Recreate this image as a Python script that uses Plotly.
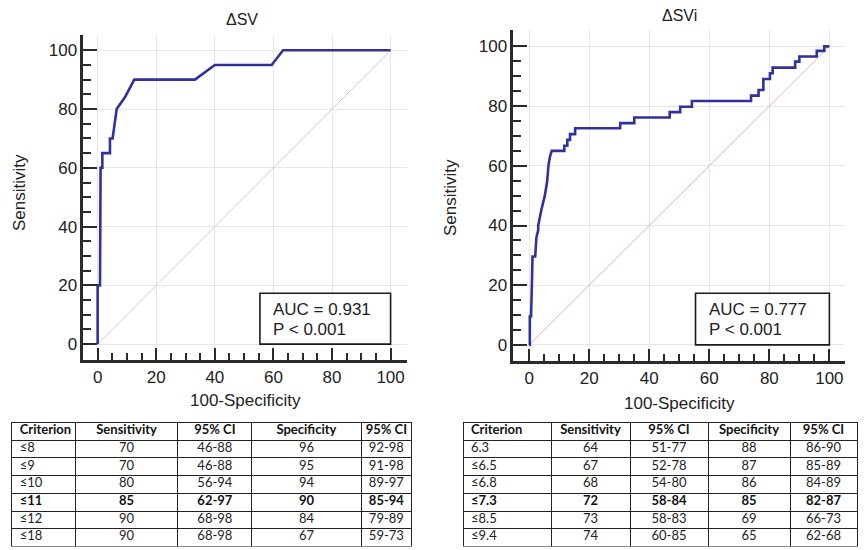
import plotly.graph_objects as go

W, H = 865, 550

# ---------------- data ----------------
sv_title = "ΔSV"
sv_fpr = [0, 0, 0.8, 0.8, 1.0, 1.6, 1.6, 4.2, 4.2, 5.1, 6.5, 9.3, 12.5, 33.2, 40.0, 59.4, 63.3, 100]
sv_sens = [0, 20, 20, 55, 60, 60, 65, 65, 70, 70, 80, 84, 90, 90, 95, 95, 100, 100]
sv_auc = "AUC = 0.931"
sv_p = "P < 0.001"

svi_title = "ΔSVi"
svi_fpr = [0, 0.2, 0.2, 0.6, 0.9, 1.1, 2.0, 2.4, 3.0, 3.0, 4.0, 5.2, 6.0, 6.4, 6.9, 7.5,
           11.7, 11.7, 12.7, 12.7, 13.6, 13.6, 15.3, 15.3, 30.3, 30.3, 35.0, 35.0,
           46.8, 46.8, 50.3, 50.3, 54.2, 54.2, 73.9, 73.9, 76.4, 76.4, 78.0, 78.0,
           80.2, 80.2, 81.1, 81.1, 88.6, 88.6, 90.0, 90.0, 95.8, 95.8, 98.3, 98.3, 100]
svi_sens = [0, 0, 9.5, 9.5, 20, 29.6, 29.6, 36, 38.5, 40, 45, 50, 55, 60, 63, 65,
            65, 66.7, 66.7, 68.7, 68.7, 70.6, 70.6, 72.6, 72.6, 74.3, 74.3, 76.2,
            76.2, 78.0, 78.0, 79.8, 79.8, 81.7, 81.7, 83.5, 83.5, 85.4, 85.4, 89.1,
            89.1, 91.0, 91.0, 92.9, 92.9, 94.9, 94.9, 96.6, 96.6, 98.5, 98.5, 100, 100]
svi_auc = "AUC = 0.777"
svi_p = "P < 0.001"

diag = [0, 100]
tick_vals = [0, 20, 40, 60, 80, 100]
minor_vals = [v for v in range(5, 100, 5) if v % 20 != 0]

x_title = "100-Specificity"
y_title = "Sensitivity"

tbl_header = ["Criterion", "Sensitivity", "95% CI", "Specificity", "95% CI"]
sv_crit = ["≤8", "≤9", "≤10", "≤11", "≤12", "≤18"]
sv_se = ["70", "70", "80", "85", "90", "90"]
sv_se_ci = ["46-88", "46-88", "56-94", "62-97", "68-98", "68-98"]
sv_sp = ["96", "95", "94", "90", "84", "67"]
sv_sp_ci = ["92-98", "91-98", "89-97", "85-94", "79-89", "59-73"]

svi_crit = ["6.3", "≤6.5", "≤6.8", "≤7.3", "≤8.5", "≤9.4"]
svi_se = ["64", "67", "68", "72", "73", "74"]
svi_se_ci = ["51-77", "52-78", "54-80", "58-84", "58-83", "60-85"]
svi_sp = ["88", "87", "86", "85", "69", "65"]
svi_sp_ci = ["86-90", "85-89", "84-89", "82-87", "66-73", "62-68"]
bold_row = 3

# ---------------- styling ----------------
CURVE = "#30319a"
FONT = "Liberation Sans, Arial, sans-serif"
TFONT = "Lato, sans-serif"
TXT = "#222222"

fig = go.Figure()

def px_dom_x(a, b):
    return [a / W, b / W]

def px_dom_y(top, bottom):
    return [1 - bottom / H, 1 - top / H]

panels = [
    dict(xa="x", ya="y", fpr=sv_fpr, sens=sv_sens, diag_col="#cdcdcd",
         xdom=px_dom_x(83.3, 406.7), ydom=px_dom_y(35, 360),
         xr=[-4.9, 105.5], yr=[-5.4, 105.2],
         title=sv_title, auc=sv_auc, p=sv_p),
    dict(xa="x2", ya="y2", fpr=svi_fpr, sens=svi_sens, diag_col="#ddb3bd",
         xdom=px_dom_x(513.3, 845), ydom=px_dom_y(30, 361),
         xr=[-5.3, 105.2], yr=[-5.4, 105.5],
         title=svi_title, auc=svi_auc, p=svi_p),
]

shapes = []
annotations = []
for i, p in enumerate(panels):
    fig.add_trace(go.Scatter(x=diag, y=diag, mode="lines", xaxis=p["xa"], yaxis=p["ya"],
                             line=dict(color=p["diag_col"], width=1), hoverinfo="skip",
                             showlegend=False))
    fig.add_trace(go.Scatter(x=p["fpr"], y=p["sens"], mode="lines", xaxis=p["xa"], yaxis=p["ya"],
                             line=dict(color=CURVE, width=2.6), showlegend=False))
    sfx = "" if i == 0 else "2"
    common = dict(showgrid=True, gridcolor="#e6e6e6", gridwidth=1, zeroline=False,
                  showline=True, linecolor="#2a2a2a", linewidth=2.5,
                  tickmode="array", tickvals=tick_vals, ticks="inside",
                  tickcolor="#2a2a2a", tickwidth=2, automargin=False,
                  tickfont=dict(family=FONT, size=17, color=TXT),
                  fixedrange=True)
    fig.update_layout(**{
        "xaxis" + sfx: dict(common, domain=p["xdom"], range=p["xr"], ticklen=12,
                            anchor="y" + sfx,
                            minor=dict(tickmode="array", tickvals=minor_vals, ticks="inside",
                                       ticklen=7, tickwidth=1.5, tickcolor="#2a2a2a", showgrid=False)),
        "yaxis" + sfx: dict(common, domain=p["ydom"], range=p["yr"], ticklen=14,
                            anchor="x" + sfx,
                            minor=dict(tickmode="array", tickvals=minor_vals, ticks="inside",
                                       ticklen=8, tickwidth=1.5, tickcolor="#2a2a2a", showgrid=False)),
    })
    xref, yref = p["xa"], p["ya"]
    shapes.append(dict(type="rect", xref=xref, yref=yref, x0=55.4, x1=100, y0=0, y1=17.3,
                       line=dict(color="#1a1a1a", width=1.6), fillcolor="white", layer="above"))
    annotations.append(dict(xref=xref, yref=yref, x=59.3, y=11.9, text=p["auc"], showarrow=False,
                            xanchor="left", yanchor="middle",
                            font=dict(family=FONT, size=17, color=TXT)))
    annotations.append(dict(xref=xref, yref=yref, x=59.3, y=5.1, text=p["p"], showarrow=False,
                            xanchor="left", yanchor="middle",
                            font=dict(family=FONT, size=17, color=TXT)))

# titles (pixel positions converted to paper)
def ann_px(text, x, y, size, angle=0):
    return dict(xref="paper", yref="paper", x=x / W, y=1 - y / H, text=text, showarrow=False,
                xanchor="center", yanchor="middle", textangle=angle,
                font=dict(family=FONT, size=size, color=TXT))

annotations += [
    ann_px(sv_title, 242, 19, 16),
    ann_px(svi_title, 679, 16, 16),
    ann_px(x_title, 245, 400, 17),
    ann_px(x_title, 679, 403, 17),
    ann_px(y_title, 20, 193, 17, -90),
    ann_px(y_title, 450, 197, 17, -90),
]

# tables: a grid table (lines) and text tables drawn on top of it, lifted a few
# pixels so that the text sits in the middle of the short rows.  The bold row is
# shown as the (bold) header of a second text table.
ROW_H = 17.7
TBL_TOP = 422.5
LIFT = 6
ALIGN = ["left", "center", "center", "center", "center"]

def nb(s):
    return s.replace(" ", "\u00a0")

def text_table(header_vals, cell_cols, xdom, widths, top, nrows):
    return go.Table(
        domain=dict(x=xdom, y=px_dom_y(top, top + nrows * ROW_H + 0.5)),
        columnwidth=widths,
        header=dict(values=header_vals, align=ALIGN,
                    line=dict(color="rgba(0,0,0,0)", width=0), fill_color="rgba(0,0,0,0)",
                    height=ROW_H, font=dict(family=TFONT, size=13, color="#111111", weight=700)),
        cells=dict(values=cell_cols, align=ALIGN,
                   line=dict(color="rgba(0,0,0,0)", width=0), fill_color="rgba(0,0,0,0)",
                   height=ROW_H, font=dict(family=TFONT, size=13, color="#222222", weight=400)),
    )

def add_table(cols, xdom, widths):
    n = len(cols[0])
    fig.add_trace(go.Table(
        domain=dict(x=xdom, y=px_dom_y(TBL_TOP, TBL_TOP + (n + 1) * ROW_H + 0.5)),
        columnwidth=widths,
        header=dict(values=[""] * len(cols), line=dict(color="#222222", width=1),
                    fill_color="white", height=ROW_H),
        cells=dict(values=[[""] * n for _ in cols], line=dict(color="#222222", width=1),
                   fill_color="white", height=ROW_H),
    ))
    top = TBL_TOP - LIFT
    fig.add_trace(text_table([nb(h) for h in tbl_header],
                             [c[:bold_row] for c in cols], xdom, widths, top, bold_row + 1))
    top2 = top + (bold_row + 1) * ROW_H
    fig.add_trace(text_table([c[bold_row] for c in cols],
                             [c[bold_row + 1:] for c in cols], xdom, widths, top2, n - bold_row))

add_table([sv_crit, sv_se, sv_se_ci, sv_sp, sv_sp_ci], px_dom_x(11.7, 412),
          [63.6, 102.7, 74, 109.3, 50.7])
add_table([svi_crit, svi_se, svi_se_ci, svi_sp, svi_sp_ci], px_dom_x(463, 857),
          [88, 79, 78, 82, 67])

fig.update_layout(width=W, height=H, margin=dict(l=0, r=0, t=0, b=0),
                  paper_bgcolor="white", plot_bgcolor="white",
                  shapes=shapes, annotations=annotations, showlegend=False,
                  font=dict(family=FONT, color=TXT))

fig.write_html("out.html", config=dict(displayModeBar=False),
               post_script="document.body.style.margin='0';document.body.style.overflow='hidden';")
